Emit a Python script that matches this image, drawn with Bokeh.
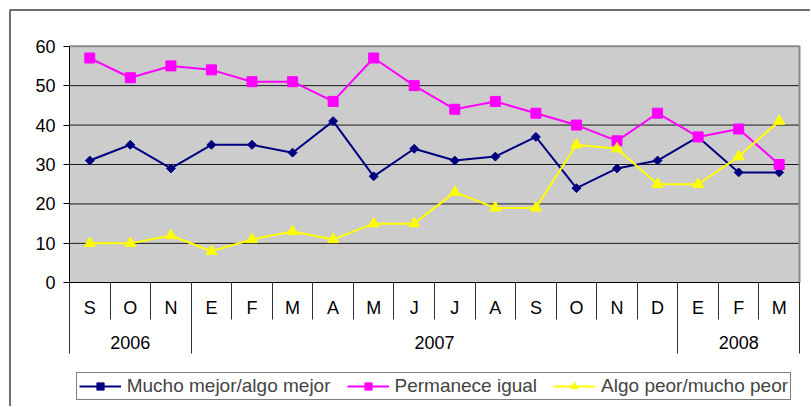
import math
import numpy as np
from bokeh.plotting import figure
from bokeh.models import LinearAxis, FixedTicker, Range1d, Legend, LegendItem
from bokeh.embed import file_html
from bokeh.resources import INLINE

# ---- data ----
months = ["S", "O", "N", "E", "F", "M", "A", "M", "J", "J", "A", "S", "O", "N", "D", "E", "F", "M"]
years = ["2006", "2007", "2008"]
year_counts = [3, 12, 3]
mucho_mejor = [31, 35, 29, 35, 35, 33, 41, 27, 34, 31, 32, 37, 24, 29, 31, 37, 28, 28]
permanece_igual = [57, 52, 55, 54, 51, 51, 46, 57, 50, 44, 46, 43, 40, 36, 43, 37, 39, 30]
algo_peor = [10, 10, 12, 8, 11, 13, 11, 15, 15, 23, 19, 19, 35, 34, 25, 25, 32, 41]
y_ticks = [0, 10, 20, 30, 40, 50, 60]
series_names = ["Mucho mejor/algo mejor", "Permanece igual", "Algo peor/mucho peor"]

# ---- layout (canvas pixels) ----
W, H = 810, 406
PL, PR = 69.0, 799.0     # plot area left/right
PT, PB = 45.7, 282.3     # plot area top/bottom
n = len(months)
ymax = y_ticks[-1]
xs = (PR - PL) / n
ys = (PB - PT) / ymax
x_start = -PL / xs
x_end = n + (W - PR) / xs
y_end = ymax + PT / ys
y_start = -(H - PB) / ys


def dx(cx):
    return (cx - PL) / xs


def dy(cy):
    return (PB - cy) / ys


FONT = "Liberation Sans"

p = figure(width=W, height=H, x_range=Range1d(x_start, x_end), y_range=Range1d(y_start, y_end),
           x_axis_type=None, y_axis_type=None, toolbar_location=None, output_backend="svg",
           min_border=0, outline_line_color=None, background_fill_color="white",
           border_fill_color="white")

# outer chart border (top and left visible)
p.line([dx(9.5), dx(9.5), dx(W + 20)], [dy(H + 20), dy(9.5), dy(9.5)],
       line_color="#404040", line_width=1.5)

# plot area
p.quad(left=0, right=n, bottom=0, top=ymax, fill_color="#CCCCCC", line_color=None)
p.segment(x0=[0] * (len(y_ticks) - 2), x1=[n] * (len(y_ticks) - 2),
          y0=y_ticks[1:-1], y1=y_ticks[1:-1], line_color="#1a1a1a", line_width=1)
p.line([0, n, n], [ymax, ymax, 0], line_color="#8a8a8a", line_width=2)

x = np.arange(n) + 0.5
l1 = p.line(x, mucho_mejor, line_color="#000080", line_width=2)
s1 = p.scatter(x, mucho_mejor, marker="square", angle=math.pi / 4, size=6.3,
               fill_color="#000080", line_color="#000080")
l2 = p.line(x, permanece_igual, line_color="#FF00FF", line_width=2)
s2 = p.scatter(x, permanece_igual, marker="square", size=10,
               fill_color="#FF00FF", line_color="#FF00FF")
l3 = p.line(x, algo_peor, line_color="#FFFF00", line_width=2)
s3 = p.scatter(x, algo_peor, marker="triangle", size=11,
               fill_color="#FFFF00", line_color="#FFFF00")

# y axis
yaxis = LinearAxis(fixed_location=0, bounds=(0, ymax),
                   ticker=FixedTicker(ticks=y_ticks, minor_ticks=[]),
                   major_tick_out=6, major_tick_in=0, minor_tick_out=0, minor_tick_in=0,
                   axis_line_color="black", major_tick_line_color="black",
                   major_label_text_font=FONT, major_label_text_font_size="18px",
                   major_label_text_color="black", major_label_standoff=8)
p.add_layout(yaxis, "left")

# month axis
month_pos = [i + 0.5 for i in range(n)]
maxis = LinearAxis(fixed_location=0, bounds=(0, n),
                   ticker=FixedTicker(ticks=month_pos, minor_ticks=list(range(n + 1))),
                   major_label_overrides={pos: m for pos, m in zip(month_pos, months)},
                   major_tick_out=0, major_tick_in=0, minor_tick_out=37, minor_tick_in=0,
                   minor_tick_line_color="#303030", axis_line_color="black",
                   major_label_text_font=FONT, major_label_text_font_size="18px",
                   major_label_text_color="black", major_label_standoff=-22)
p.add_layout(maxis, "below")

# year axis
bounds = [0]
for c in year_counts:
    bounds.append(bounds[-1] + c)
year_pos = [(bounds[i] + bounds[i + 1]) / 2 for i in range(len(years))]
yraxis = LinearAxis(fixed_location=0, bounds=(0, n),
                    ticker=FixedTicker(ticks=year_pos, minor_ticks=bounds),
                    major_label_overrides={pos: yv for pos, yv in zip(year_pos, years)},
                    major_tick_out=0, major_tick_in=0, minor_tick_out=71, minor_tick_in=0,
                    minor_tick_line_color="#303030", axis_line_color=None,
                    major_label_text_font=FONT, major_label_text_font_size="18px",
                    major_label_text_color="black", major_label_standoff=-18)
p.add_layout(yraxis, "below")

legend = Legend(items=[LegendItem(label=series_names[0], renderers=[l1, s1]),
                       LegendItem(label=series_names[1], renderers=[l2, s2]),
                       LegendItem(label=series_names[2], renderers=[l3, s3])],
                location=(75.7, 6.5), orientation="horizontal", margin=0, padding=2,
                spacing=16, label_standoff=6, glyph_width=42, glyph_height=18,
                label_height=18,
                label_text_font=FONT, label_text_font_size="19px",
                border_line_color="black", border_line_width=1,
                background_fill_color="white", background_fill_alpha=1)
p.add_layout(legend)

open("out.html", "w").write(file_html(p, INLINE))
